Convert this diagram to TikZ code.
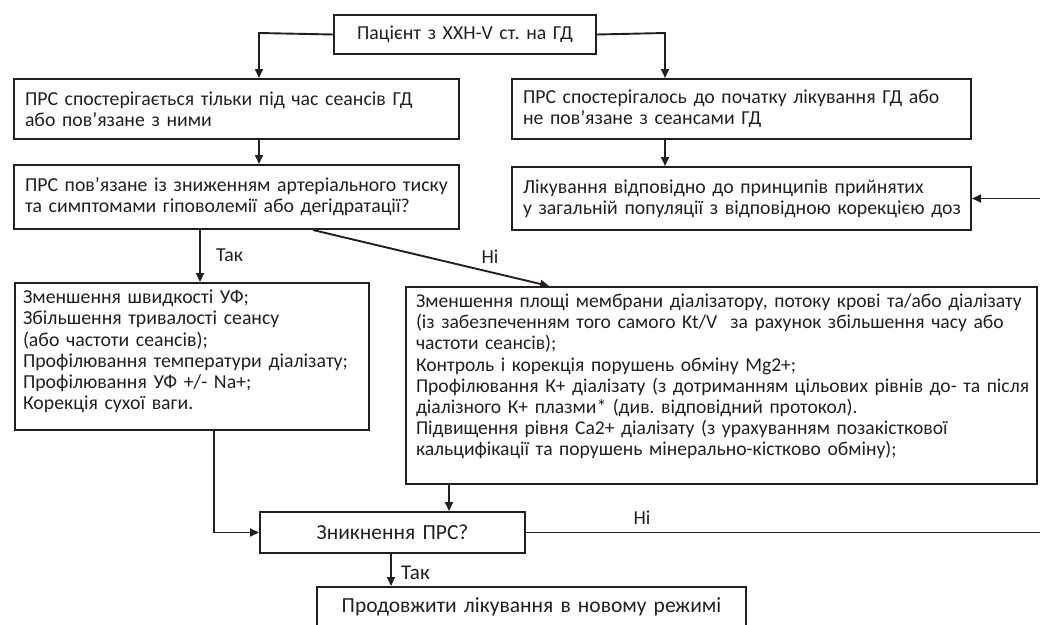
\documentclass[tikz,border=0pt]{standalone}
\usepackage{fontspec}
\setmainfont{Carlito}
\usetikzlibrary{arrows.meta,calc}
\definecolor{ink}{HTML}{231F20}
\newcommand\nw[1]{\mbox{#1}}
\frenchspacing
\begin{document}
\lineskiplimit=-100pt
\begin{tikzpicture}[x=1pt,y=-1pt,
  box/.style={draw=ink, line width=2pt, text=ink, inner xsep=11pt, inner ysep=2pt,
    align=left, anchor=north west,
    font=\fontsize{19.8}{21.2}\selectfont},
  bigbox/.style={box, align=center, font=\fontsize{21.5}{23}\selectfont},
  arr/.style={draw=ink, line width=1.9pt, -{Triangle[length=9pt,width=8pt]}},
  lab/.style={text=ink, inner sep=0pt, font=\fontsize{19.8}{21.2}\selectfont},
  biglab/.style={lab, font=\fontsize{21}{23}\selectfont}]
\useasboundingbox (0,0) rectangle (1040,624);

\node[bigbox, font=\fontsize{19.8}{21.2}\selectfont, minimum width=262pt, minimum height=39pt, text width=240pt] (top) at (333,14) {Пацієнт з ХХН-V ст. на ГД};

\node[box, minimum width=445pt, minimum height=60pt, text width=423pt] (b1) at (13,78)
  {\nw{ПРС спостерігається тільки під час сеансів ГД}\\або пов’язане з ними};
\node[box, minimum width=459pt, minimum height=60pt, text width=437pt] (b2) at (511,78)
  {\nw{ПРС спостерігалось до початку лікування ГД або}\\не пов’язане з сеансами ГД};
\node[box, minimum width=445pt, minimum height=64pt, text width=423pt] (b3) at (13,164)
  {\nw{ПРС пов’язане із зниженням артеріального тиску}\\\nw{та симптомами гіповолемії або дегідратації?}};
\node[box, minimum width=459pt, minimum height=63pt, text width=437pt] (b4) at (511,166)
  {\nw{Лікування відповідно до принципів прийнятих}\\\nw{у загальній популяції з відповідною корекцією доз}};
\node[box, inner xsep=8pt, minimum width=354pt, minimum height=147pt, text width=338pt] (b5) at (14,282)
  {Зменшення швидкості УФ;\\Збільшення тривалості сеансу\\(або частоти сеансів);\\\nw{Профілювання температури діалізату;}\\Профілювання УФ +/- Na+;\\Корекція сухої ваги.\\[-8pt]\mbox{}};
\node[box, inner xsep=10pt, minimum width=631pt, minimum height=197pt, text width=611pt,
  font=\fontsize{19.6}{21.2}\selectfont] (b6) at (405,286)
  {\nw{Зменшення площі мембрани діалізатору, потоку крові та/або діалізату}\\\nw{(із забезпеченням того самого Kt/V\ \ за рахунок збільшення часу або}\\частоти сеансів);\\Контроль і корекція порушень обміну Mg2+;\\\nw{Профілювання К+ діалізату (з дотриманням цільових рівнів до- та після}\\\nw{діалізного К+ плазми* (див. відповідний протокол).}\\\nw{Підвищення рівня Са2+ діалізату (з урахуванням позакісткової}\\\nw{кальцифікації та порушень мінерально-кістково обміну);}\\\mbox{}};
\node[bigbox, minimum width=265pt, minimum height=41pt, text width=243pt] (z) at (259,511) {Зникнення ПРС?};
\node[bigbox, minimum width=429pt, minimum height=40pt, text width=407pt] (last) at (316,586) {Продовжити лікування в новому режимі};

\coordinate (c1) at (259,33);
\coordinate (c2) at (665,33);
\coordinate (c3) at (200,0);
\coordinate (c4) at (313,0);
\coordinate (c5) at (549,0);
\coordinate (c6) at (214,0);
\coordinate (c7) at (449,0);
\coordinate (c8) at (391,0);
\coordinate (fb) at (1046,0);

\draw[arr] (top.west) -- (c1) -- (c1 |- b1.north);
\draw[arr] (top.east) -- (c2) -- (c2 |- b2.north);
\draw[arr] (c1 |- b1.south) -- (c1 |- b3.north);
\draw[arr] (c2 |- b2.south) -- (c2 |- b4.north);
\draw[arr] (c3 |- b3.south) -- (c3 |- b5.north);
\draw[arr] (c4 |- b3.south) -- (c5 |- b6.north);
\draw[arr] (c6 |- b5.south) |- (z.west);
\draw[arr] (c7 |- b6.south) -- (c7 |- z.north);
\draw[arr] (z.east) -- (z.east -| fb) |- (b4.east);
\draw[arr] (c8 |- z.south) -- (c8 |- last.north);

\node[lab, anchor=west] (l1) at (216,255) {Так};
\node[lab] (l2) at (490,257) {Ні};
\node[lab] (l3) at (642,518) {Ні};
\node[biglab, anchor=west] (l4) at (401,573) {Так};
\end{tikzpicture}
\end{document}
